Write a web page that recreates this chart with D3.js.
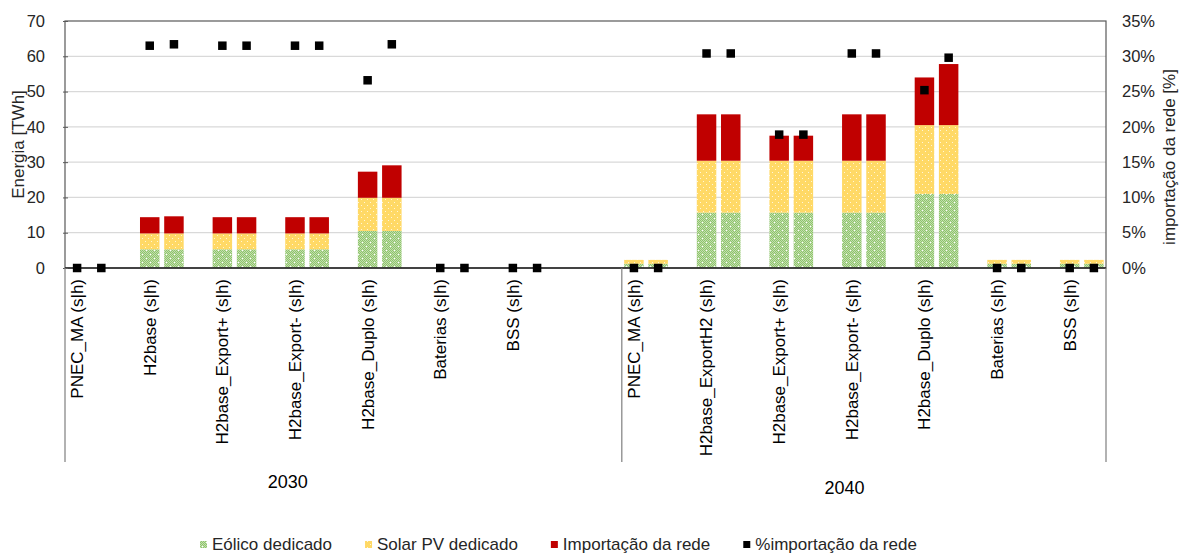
<!DOCTYPE html>
<html>
<head>
<meta charset="utf-8">
<script src="https://cdn.jsdelivr.net/npm/d3@7"></script>
<style>
  html, body { margin: 0; padding: 0; background: #fff; }
  svg { display: block; font-family: "Liberation Sans", Arial, sans-serif; }
</style>
</head>
<body>
<svg id="chart" width="1190" height="553"></svg>
<script>
// ---------- DATA ----------
const years = ["2030", "2040"];
const cats2030 = ["PNEC_MA (s|h)", "H2base (s|h)", "H2base_Export+ (s|h)", "H2base_Export- (s|h)", "H2base_Duplo (s|h)", "Baterias (s|h)", "BSS (s|h)"];
const cats2040 = ["PNEC_MA (s|h)", "H2base_ExportH2 (s|h)", "H2base_Export+ (s|h)", "H2base_Export- (s|h)", "H2base_Duplo (s|h)", "Baterias (s|h)", "BSS (s|h)"];
const variants = ["s", "h"];

// values per bar, ordered [cat0 s, cat0 h, cat1 s, cat1 h, ...]  (TWh)
const eolico2030 = [0, 0, 5.3, 5.3, 5.3, 5.3, 5.3, 5.3, 10.5, 10.5, 0, 0, 0, 0];
const solar2030  = [0, 0, 4.5, 4.5, 4.5, 4.5, 4.5, 4.5, 9.4, 9.4, 0, 0, 0, 0];
const rede2030   = [0, 0, 4.6, 4.85, 4.6, 4.6, 4.6, 4.6, 7.4, 9.2, 0, 0, 0, 0];
const pct2030    = [0, 0, 0.315, 0.317, 0.315, 0.315, 0.315, 0.315, 0.266, 0.317, 0, 0, 0, 0];

const eolico2040 = [1.2, 1.2, 15.7, 15.7, 15.7, 15.7, 15.7, 15.7, 21.0, 21.0, 1.2, 1.2, 1.2, 1.2];
const solar2040  = [1.1, 1.1, 14.7, 14.7, 14.7, 14.7, 14.7, 14.7, 19.5, 19.5, 1.1, 1.1, 1.1, 1.1];
const rede2040   = [0, 0, 13.15, 13.15, 7.1, 7.1, 13.15, 13.15, 13.5, 17.3, 0, 0, 0, 0];
const pct2040    = [0, 0, 0.304, 0.304, 0.189, 0.189, 0.304, 0.304, 0.252, 0.298, 0, 0, 0, 0];

const leftTicks = [0, 10, 20, 30, 40, 50, 60, 70];
const rightTicks = [0, 0.05, 0.10, 0.15, 0.20, 0.25, 0.30, 0.35];
const seriesNames = ["Eólico dedicado", "Solar PV dedicado", "Importação da rede", "%importação da rede"];
const leftTitle = "Energia [TWh]";
const rightTitle = "importação da rede [%]";

// ---------- LAYOUT ----------
const L = 65, R = 1106, T = 21, B = 268;
const svg = d3.select("#chart");
const catsByYear = { "2030": cats2030, "2040": cats2040 };
const seriesByYear = {
  "2030": { e: eolico2030, s: solar2030, r: rede2030, p: pct2030 },
  "2040": { e: eolico2040, s: solar2040, r: rede2040, p: pct2040 }
};

// slots: s, h bars per category, one empty slot between categories, three between years
const slotKeys = [];
years.forEach((yr, yi) => {
  const cats = catsByYear[yr];
  cats.forEach((c, ci) => {
    variants.forEach(v => slotKeys.push(`${yr}|${ci}|${v}`));
    if (ci < cats.length - 1) slotKeys.push(`${yr}|${ci}|gap`);
  });
  if (yi < years.length - 1) slotKeys.push(`${yr}|g1`, `${yr}|g2`, `${yr}|g3`);
});

const pin = 0.195;
const x = d3.scaleBand().domain(slotKeys).range([L, R]).paddingInner(pin).paddingOuter(pin / 2);
const y = d3.scaleLinear().domain([0, 70]).range([B, T]);
const y2 = d3.scaleLinear().domain([0, 0.35]).range([B, T]);
const step = x.step();
const slotStart = k => x(k) - step * pin / 2;

// bars data
const bars = [];
years.forEach(yr => {
  const S = seriesByYear[yr];
  catsByYear[yr].forEach((c, ci) => {
    variants.forEach((v, vi) => {
      const i = ci * 2 + vi;
      bars.push({ key: `${yr}|${ci}|${v}`, e: S.e[i], s: S.s[i], r: S.r[i], p: S.p[i] });
    });
  });
});

// ---------- PATTERNS ----------
const defs = svg.append("defs");
const pg = defs.append("pattern").attr("id", "pGreen").attr("patternUnits", "userSpaceOnUse")
  .attr("width", 8).attr("height", 8);
pg.append("rect").attr("width", 8).attr("height", 8).attr("fill", "#c2dfae");
let gpath = "";
for (let i = 0; i < 8; i++) for (let j = 0; j < 8; j++) if ((i + j) % 2 === 0) gpath += `M${i},${j}h1v1h-1z`;
pg.append("path").attr("d", gpath).attr("fill", "#8fc46c");
pg.append("rect").attr("x", 2).attr("y", 2).attr("width", 1).attr("height", 1).attr("fill", "#ffffff");
pg.append("rect").attr("x", 6).attr("y", 6).attr("width", 1).attr("height", 1).attr("fill", "#ffffff");

const py = defs.append("pattern").attr("id", "pYellow").attr("patternUnits", "userSpaceOnUse")
  .attr("width", 6).attr("height", 6);
py.append("rect").attr("width", 6).attr("height", 6).attr("fill", "#ffd966");
py.append("rect").attr("x", 1).attr("y", 1).attr("width", 1).attr("height", 1).attr("fill", "#fff6d8");
py.append("rect").attr("x", 4).attr("y", 4).attr("width", 1).attr("height", 1).attr("fill", "#fff6d8");

const fills = { e: "url(#pGreen)", s: "url(#pYellow)", r: "#c00000" };

// ---------- GRID ----------
svg.append("g").selectAll("line").data(leftTicks.filter(d => d > 0 && d < 70)).join("line")
  .attr("x1", L).attr("x2", R).attr("y1", d => y(d)).attr("y2", d => y(d))
  .attr("stroke", "#d9d9d9").attr("stroke-width", 1.3);

// ---------- BARS ----------
const gb = svg.append("g");
bars.forEach(b => {
  let base = 0;
  ["e", "s", "r"].forEach(k => {
    const v = b[k];
    if (v > 0) {
      gb.append("rect")
        .attr("x", x(b.key)).attr("width", x.bandwidth())
        .attr("y", y(base + v)).attr("height", y(base) - y(base + v))
        .attr("fill", fills[k]);
    }
    base += v;
  });
});

// ---------- FRAME / AXES ----------
svg.append("rect").attr("x", L).attr("y", T).attr("width", R - L).attr("height", B - T)
  .attr("fill", "none").attr("stroke", "#595959").attr("stroke-width", 1.2);
svg.append("line").attr("x1", L).attr("x2", R).attr("y1", B).attr("y2", B)
  .attr("stroke", "#262626").attr("stroke-width", 1.4);

// left axis
const gl = svg.append("g").attr("transform", `translate(${L},0)`)
  .call(d3.axisLeft(y).tickValues(leftTicks).tickSize(-5).tickPadding(20));
gl.select(".domain").remove();
gl.selectAll(".tick line").attr("stroke", "#595959").attr("transform", "translate(-2,0)");
gl.selectAll(".tick text").attr("font-size", "16.5px").attr("fill", "#262626")
  .attr("font-family", '"Liberation Sans", Arial, sans-serif');

// right axis
const gr = svg.append("g").attr("transform", `translate(${R},0)`)
  .call(d3.axisRight(y2).tickValues(rightTicks).tickSize(0).tickPadding(16).tickFormat(d3.format(".0%")));
gr.select(".domain").remove();
gr.selectAll(".tick text").attr("font-size", "16.5px").attr("fill", "#262626")
  .attr("font-family", '"Liberation Sans", Arial, sans-serif');

// axis titles
svg.append("text").attr("transform", `translate(18,${(T + B) / 2}) rotate(-90)`)
  .attr("text-anchor", "middle").attr("dy", "0.35em").attr("font-size", "17px").attr("fill", "#262626")
  .text(leftTitle);
svg.append("text").attr("transform", `translate(1169,157) rotate(-90)`)
  .attr("text-anchor", "middle").attr("dy", "0.35em").attr("font-size", "17px").attr("fill", "#262626")
  .text(rightTitle);

// ---------- CATEGORY LABELS ----------
const sepBottom = 462;
const gc = svg.append("g");
years.forEach((yr, yi) => {
  catsByYear[yr].forEach((c, ci) => {
    const cx = x(`${yr}|${ci}|s`) + x.bandwidth() / 2;
    gc.append("text").attr("transform", `translate(${cx},279) rotate(-90)`)
      .attr("text-anchor", "end").attr("dy", "0.35em").attr("font-size", "17px").attr("fill", "#000")
      .text(c);
  });
  const gs = slotStart(`${yr}|0|s`);
  gc.append("line").attr("x1", gs).attr("x2", gs).attr("y1", B).attr("y2", sepBottom)
    .attr("stroke", "#7f7f7f").attr("stroke-width", 1.2);
  gc.append("text").attr("x", gs + step * 9.2).attr("y", yi === 0 ? 482 : 488)
    .attr("text-anchor", "middle").attr("dy", "0.35em").attr("font-size", "18px").attr("fill", "#000")
    .text(yr);
});
gc.append("line").attr("x1", R).attr("x2", R).attr("y1", B).attr("y2", sepBottom)
  .attr("stroke", "#7f7f7f").attr("stroke-width", 1.2);

// ---------- MARKERS ----------
const ms = 8.5;
svg.append("g").selectAll("rect").data(bars).join("rect")
  .attr("x", d => x(d.key) + x.bandwidth() / 2 - ms / 2)
  .attr("y", d => y2(d.p) - ms / 2)
  .attr("width", ms).attr("height", ms).attr("fill", "#000");

// ---------- LEGEND ----------
const legFills = ["url(#pGreen)", "url(#pYellow)", "#c00000", "#000"];
const lg = svg.append("g");
let lx = 200;
const ly = 544;
seriesNames.forEach((n, i) => {
  lg.append("rect").attr("x", lx).attr("y", ly - 3).attr("width", 7).attr("height", 7).attr("fill", legFills[i]);
  const t = lg.append("text").attr("x", lx + 12).attr("y", ly).attr("dy", "0.35em")
    .attr("font-size", "17px").attr("fill", "#262626").text(n);
  const w = t.node().getComputedTextLength();
  lx = lx + 12 + w + 33;
});
</script>
</body>
</html>
